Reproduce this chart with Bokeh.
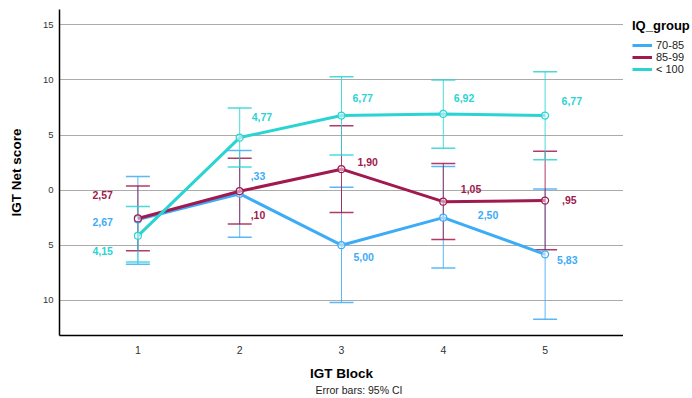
from bokeh.plotting import figure
from bokeh.layouts import row
from bokeh.models import (ColumnDataSource, Whisker, TeeHead, Legend, LegendItem,
                          FixedTicker, Range1d, LinearAxis)
from bokeh.core.properties import value
from bokeh.embed import file_html
from bokeh.resources import INLINE

# ---------------- data ----------------
blocks = [1, 2, 3, 4, 5]
groups = ["70-85", "85-99", "< 100"]

mean_70_85 = [-2.67, -0.33, -5.00, -2.50, -5.83]
upper_70_85 = [1.24, 3.60, 0.25, 2.14, 0.10]
lower_70_85 = [-6.72, -4.27, -10.20, -7.07, -11.73]

mean_85_99 = [-2.57, -0.10, 1.90, -1.05, -0.95]
upper_85_99 = [0.38, 2.90, 5.84, 2.42, 3.53]
lower_85_99 = [-5.51, -3.08, -2.03, -4.49, -5.42]

mean_lt100 = [-4.15, 4.77, 6.77, 6.92, 6.77]
upper_lt100 = [-1.49, 7.46, 10.30, 10.00, 10.74]
lower_lt100 = [-6.53, 2.09, 3.20, 3.80, 2.75]

y_ticks = [-10, -5, 0, 5, 10, 15]
y_tick_labels = {-10: "10", -5: "5", 0: "0", 5: "5", 10: "10", 15: "15"}

# label placement (screen px offsets, styling only)
lab_dx = {
    "70-85": [-25, 11, 12, 34.5, 12],
    "85-99": [-25, 11, 16, 17.5, 17],
    "< 100": [-25, 12, 11, 10.5, 16.5],
}
lab_dy = {
    "70-85": [2, -17.5, 12, -3, 6],
    "85-99": [-23, 24, -7, -13, -1],
    "< 100": [15, -21, -18, -16, -15],
}

colors = {"70-85": "#3DACF7", "85-99": "#A01A4F", "< 100": "#2BD3D3"}
series = {
    "70-85": (mean_70_85, upper_70_85, lower_70_85),
    "85-99": (mean_85_99, upper_85_99, lower_85_99),
    "< 100": (mean_lt100, upper_lt100, lower_lt100),
}

FONT = "Liberation Sans"


def fmt(v):
    s = f"{abs(v):.2f}".replace(".", ",")
    if s.startswith("0,"):
        s = s[1:]
    return s


p = figure(width=623, height=398, output_backend="svg", toolbar_location=None,
           x_range=Range1d(0.23, 5.77), y_range=Range1d(-13.2, 16.4),
           min_border_left=59, min_border_right=0, min_border_top=9,
           min_border_bottom=60, outline_line_color=None)
p.background_fill_color = "white"

# grid
p.xgrid.grid_line_color = None
p.ygrid.grid_line_color = "#ABABAB"
p.ygrid.grid_line_width = 1
p.ygrid.ticker = FixedTicker(ticks=y_ticks)

# axes
p.yaxis.ticker = FixedTicker(ticks=y_ticks)
p.yaxis.major_label_overrides = y_tick_labels
p.xaxis.ticker = FixedTicker(ticks=blocks)
for ax in (p.xaxis[0], p.yaxis[0]):
    ax.axis_line_color = "black"
    ax.axis_line_width = 1.5
    ax.major_tick_line_color = None
    ax.major_tick_out = 0
    ax.major_tick_in = 0
    ax.minor_tick_line_color = None
    ax.minor_tick_out = 0
    ax.major_label_text_font = FONT
    ax.major_label_text_color = "#333333"
    ax.axis_label_text_font = FONT
    ax.axis_label_text_font_style = "bold"
    ax.axis_label_text_color = "black"
    ax.axis_label_text_font_size = "13.5px"
p.yaxis.major_label_text_font_size = "9.5px"
p.xaxis.major_label_text_font_size = "10.5px"
p.yaxis.major_label_standoff = 6
p.xaxis.major_label_standoff = 10
p.yaxis.axis_label = "IGT Net score"
p.xaxis.axis_label = "IGT Block"
p.yaxis.axis_label_standoff = 16
p.xaxis.axis_label_standoff = 9

# note as a label-only axis below the x axis
note_axis = LinearAxis(ticker=FixedTicker(ticks=[]), axis_line_color=None,
                       major_tick_line_color=None, minor_tick_line_color=None,
                       major_tick_out=0, minor_tick_out=0,
                       major_label_text_font_size="0px", major_label_standoff=0,
                       axis_label="\u00a0" * 12 + "Error bars: 95% CI",
                       axis_label_standoff=0, axis_label_text_font=FONT,
                       axis_label_text_font_size="10.5px",
                       axis_label_text_font_style="normal",
                       axis_label_text_color="#222222")
p.add_layout(note_axis, "below")

# error bars
for g in groups:
    m, up, lo = series[g]
    src = ColumnDataSource(dict(x=blocks, upper=up, lower=lo))
    c = colors[g]
    w = Whisker(source=src, base="x", upper="upper", lower="lower",
                dimension="height", line_color=c, line_width=1, line_alpha=0.85,
                upper_head=TeeHead(size=24, line_color=c, line_width=1.5, line_alpha=0.85),
                lower_head=TeeHead(size=24, line_color=c, line_width=1.5, line_alpha=0.85))
    p.add_layout(w)

# lines + markers
for g in groups:
    m, up, lo = series[g]
    c = colors[g]
    src = ColumnDataSource(dict(x=blocks, y=m))
    p.line("x", "y", source=src, line_color=c, line_width=3)
    p.scatter("x", "y", source=src, marker="circle", size=7, line_color=c,
              line_width=1.2, fill_color="white", fill_alpha=0.5)

# data labels
for g in groups:
    m, up, lo = series[g]
    c = colors[g]
    txt = [fmt(v) for v in m]
    first = ColumnDataSource(dict(x=blocks[:1], y=m[:1], t=txt[:1],
                                  dx=lab_dx[g][:1], dy=lab_dy[g][:1]))
    rest = ColumnDataSource(dict(x=blocks[1:], y=m[1:], t=txt[1:],
                                 dx=lab_dx[g][1:], dy=lab_dy[g][1:]))
    for src, al in ((first, "right"), (rest, "left")):
        p.text("x", "y", text="t", source=src, x_offset="dx", y_offset="dy",
               text_align=al, text_baseline="middle", text_color=c,
               text_font=value(FONT), text_font_style="bold",
               text_font_size=value("10.5px"))

# legend in its own narrow figure to the right (proxy lines kept off-range)
pl = figure(width=69, height=398, output_backend="svg", toolbar_location=None,
            x_range=Range1d(0, 1), y_range=Range1d(0, 1),
            x_axis_location=None, y_axis_location=None,
            min_border_left=0, min_border_right=0, min_border_top=4,
            min_border_bottom=0, outline_line_color=None)
pl.xgrid.grid_line_color = None
pl.ygrid.grid_line_color = None
items = []
for g in groups:
    r = pl.line(x=[5, 6], y=[5, 6], line_color=colors[g], line_width=3)
    items.append(LegendItem(label=g, renderers=[r]))

legend = Legend(items=items, title="IQ_group", location="top_left",
                title_text_font=FONT, title_text_font_style="bold",
                title_text_font_size="13px", title_text_color="black",
                title_standoff=6,
                label_text_font=FONT, label_text_font_size="11px",
                label_text_color="#222222", label_standoff=4,
                glyph_width=20, glyph_height=10, label_height=10, spacing=0,
                padding=0, margin=9, border_line_color=None,
                background_fill_alpha=0)
pl.add_layout(legend, "center")

layout = row(p, pl)
open("out.html", "w").write(file_html(layout, INLINE))
